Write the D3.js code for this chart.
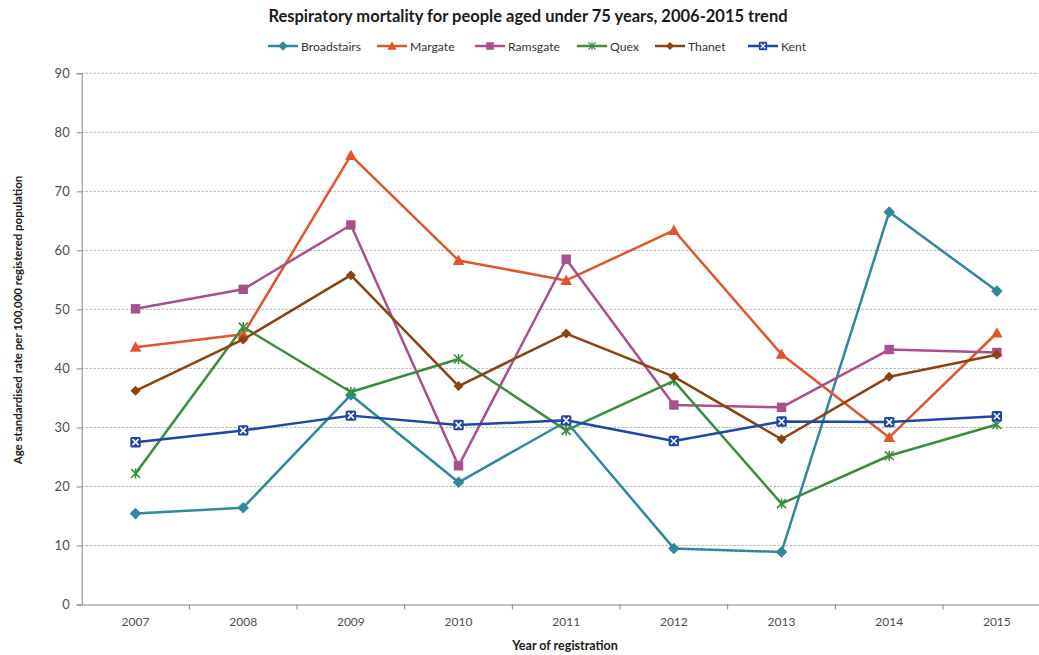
<!DOCTYPE html>
<html>
<head>
<meta charset="utf-8">
<script src="https://cdn.jsdelivr.net/npm/d3@7"></script>
<style>
  html, body { margin: 0; padding: 0; background: #fff; }
  svg { display: block; font-family: Lato, "Open Sans", sans-serif; }
</style>
</head>
<body>
<svg id="chart" width="1039" height="655"></svg>
<script>
// Respiratory mortality, age standardised rate per 100,000 (under 75s)
const years = ["2007", "2008", "2009", "2010", "2011", "2012", "2013", "2014", "2015"];
const yTicks = [0, 10, 20, 30, 40, 50, 60, 70, 80, 90];

const broadstairs = [15.4, 16.4, 35.5, 20.7, 31.0, 9.5, 8.9, 66.5, 53.1];
const margate     = [43.6, 45.8, 76.1, 58.3, 54.9, 63.4, 42.4, 28.3, 46.0];
const ramsgate    = [50.1, 53.4, 64.3, 23.5, 58.5, 33.8, 33.4, 43.2, 42.7];
const quex        = [22.2, 47.0, 36.0, 41.6, 29.5, 37.9, 17.1, 25.2, 30.5];
const thanet      = [36.2, 44.9, 55.8, 37.0, 45.9, 38.6, 28.0, 38.6, 42.3];
const kent        = [27.5, 29.5, 32.0, 30.4, 31.2, 27.7, 31.0, 30.9, 31.9];

const seriesNames  = ["Broadstairs", "Margate", "Ramsgate", "Quex", "Thanet", "Kent"];
const seriesValues = [broadstairs, margate, ramsgate, quex, thanet, kent];
const seriesColors = ["#31879C", "#E0552B", "#A84F8C", "#3A8D3E", "#8B4211", "#1F47A8"];
const seriesMarker = ["diamond", "triangle", "square", "star", "smallDiamond", "xsquare"];

const svg = d3.select("#chart");
const plot = { left: 81.7, right: 1050.7, top: 73.3, bottom: 604.5 };

const x = d3.scaleBand().domain(years).range([plot.left, plot.right]).padding(0);
const y = d3.scaleLinear().domain([0, 90]).range([plot.bottom, plot.top]);

// horizontal dashed gridlines
svg.append("g")
  .selectAll("line")
  .data(yTicks.filter(t => t > 0))
  .join("line")
  .attr("x1", plot.left).attr("x2", plot.right)
  .attr("y1", d => y(d)).attr("y2", d => y(d))
  .attr("stroke", "#a6a6a6")
  .attr("stroke-width", 1)
  .attr("stroke-dasharray", "2,2");

// y axis
const yAxis = svg.append("g")
  .attr("transform", `translate(${plot.left},0)`)
  .call(d3.axisLeft(y).tickValues(yTicks).tickSize(5).tickPadding(7).tickFormat(d3.format("d")));
yAxis.select(".domain").attr("stroke", "#868686");
yAxis.selectAll(".tick line").attr("stroke", "#868686");
yAxis.selectAll("text").attr("fill", "#4d4d4d").style("font-size", "13px").style("font-family", "Lato, sans-serif");

// x axis with ticks at category boundaries
const xAxis = svg.append("g")
  .attr("transform", `translate(0,${plot.bottom})`)
  .call(d3.axisBottom(x).tickSize(0).tickPadding(13));
xAxis.select(".domain").attr("stroke", "#868686");
xAxis.selectAll("text").attr("fill", "#4d4d4d").style("font-size", "12px").style("font-family", "Lato, sans-serif");
svg.append("g")
  .selectAll("line")
  .data(years.slice(1))
  .join("line")
  .attr("x1", d => x(d)).attr("x2", d => x(d))
  .attr("y1", plot.bottom).attr("y2", plot.bottom + 5)
  .attr("stroke", "#868686");

// marker drawing
function drawMarker(g, type, color) {
  switch (type) {
    case "diamond":
      g.append("path").attr("d", "M0,-5.8L5.8,0L0,5.8L-5.8,0Z").attr("fill", color);
      break;
    case "smallDiamond":
      g.append("path").attr("d", "M0,-5L5,0L0,5L-5,0Z").attr("fill", color);
      break;
    case "triangle":
      g.append("path").attr("d", "M0,-5.8L5.8,4.6L-5.8,4.6Z").attr("fill", color);
      break;
    case "square":
      g.append("rect").attr("x", -4.7).attr("y", -4.7).attr("width", 9.4).attr("height", 9.4).attr("fill", color);
      break;
    case "star":
      g.append("path").attr("d", "M-4.5,-4.5L4.5,4.5M-4.5,4.5L4.5,-4.5M0,-5L0,5")
        .attr("stroke", color).attr("stroke-width", 1.6).attr("fill", "none");
      break;
    case "xsquare":
      g.append("rect").attr("x", -5.2).attr("y", -5.2).attr("width", 10.4).attr("height", 10.4)
        .attr("rx", 1.5).attr("fill", color);
      g.append("path").attr("d", "M-3,-3L3,3M-3,3L3,-3")
        .attr("stroke", "#fff").attr("stroke-width", 1.6);
      break;
  }
}

const line = d3.line()
  .x((d, i) => x(years[i]) + x.bandwidth() / 2)
  .y(d => y(d));

seriesValues.forEach((vals, s) => {
  const g = svg.append("g");
  g.append("path")
    .attr("d", line(vals))
    .attr("fill", "none")
    .attr("stroke", seriesColors[s])
    .attr("stroke-width", 2.5)
    .attr("stroke-linejoin", "round");
  vals.forEach((v, i) => {
    const m = g.append("g")
      .attr("transform", `translate(${x(years[i]) + x.bandwidth() / 2},${y(v)})`);
    drawMarker(m, seriesMarker[s], seriesColors[s]);
  });
});

// title
svg.append("text")
  .attr("x", 528).attr("y", 22)
  .attr("text-anchor", "middle")
  .style("font-size", "16.5px").style("font-weight", "bold")
  .attr("fill", "#1a1a1a")
  .text("Respiratory mortality for people aged under 75 years, 2006-2015  trend");

// legend
const legendX = [268, 377, 475, 577, 655, 748];
seriesNames.forEach((name, s) => {
  const g = svg.append("g").attr("transform", `translate(${legendX[s]},46)`);
  g.append("line").attr("x1", 0).attr("x2", 30).attr("y1", 0).attr("y2", 0)
    .attr("stroke", seriesColors[s]).attr("stroke-width", 2.5);
  const m = g.append("g").attr("transform", "translate(15,0) scale(0.8)");
  drawMarker(m, seriesMarker[s], seriesColors[s]);
  g.append("text").attr("x", 33).attr("y", 4.5)
    .style("font-size", "12.2px").attr("fill", "#333")
    .text(name);
});

// axis titles
svg.append("text")
  .attr("transform", "translate(22,320) rotate(-90)")
  .attr("text-anchor", "middle")
  .style("font-size", "11.5px").style("font-weight", "bold")
  .attr("fill", "#1a1a1a")
  .text("Age standardised rate per 100,000 registered population");

svg.append("text")
  .attr("x", 565).attr("y", 650)
  .attr("text-anchor", "middle")
  .style("font-size", "12.5px").style("font-weight", "bold")
  .attr("fill", "#1a1a1a")
  .text("Year of registration");
</script>
</body>
</html>
